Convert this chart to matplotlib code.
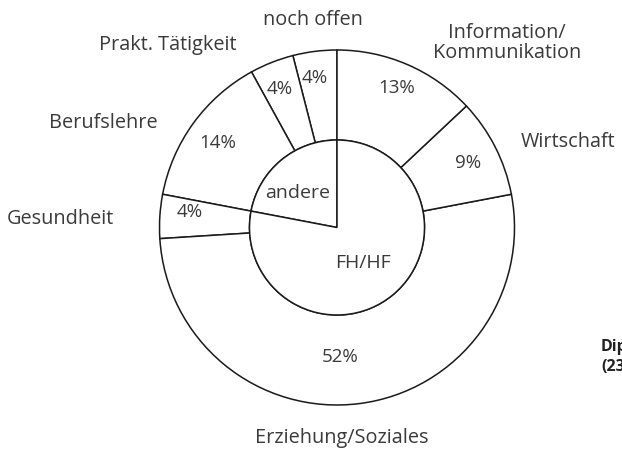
import matplotlib.pyplot as plt

plt.rcParams["font.family"] = ["Open Sans", "DejaVu Sans"]

# outer ring, counterclockwise from 12 o'clock
outer_labels = ["noch offen", "Prakt. Tätigkeit", "Berufslehre", "Gesundheit",
                "Erziehung/Soziales", "Wirtschaft", "Information/\nKommunikation"]
outer_values = [4, 4, 14, 4, 52, 9, 13]

# inner pie
inner_labels = ["andere", "FH/HF"]
inner_values = [22, 78]

W, H = 622, 453
CX, CY = 337, 227.5
R_OUT, R_IN = 177.5, 87.5
TXT = "#3a3a3a"

# label positions in image pixels (x, y from top)
outer_name_pos = [(313, 20), (168, 45), (103, 123), (60, 219),
                  (342, 438), (568, 142), (507, 43)]
outer_pct_pos = [(315, 78), (280, 89), (218, 143), (190, 212),
                 (340, 357), (468, 163), (397, 88)]
inner_name_pos = [(298, 193), (363, 263)]


def main():
    fig = plt.figure(figsize=(W / 100, H / 100), dpi=100)
    ax = fig.add_axes([0, 0, 1, 1])
    ax.set_xlim(0, W)
    ax.set_ylim(0, H)
    ax.set_aspect("equal")
    ax.axis("off")

    wp = dict(edgecolor="#1a1a1a", linewidth=1.1, facecolor="white")
    ax.pie(outer_values, center=(CX, H - CY), radius=R_OUT, startangle=90,
           counterclock=True, wedgeprops=dict(width=R_OUT - R_IN, **wp))
    ax.pie(inner_values, center=(CX, H - CY), radius=R_IN, startangle=90,
           counterclock=True, wedgeprops=wp)
    ax.set_xlim(0, W)
    ax.set_ylim(0, H)

    for name, (x, y) in zip(outer_labels, outer_name_pos):
        ax.text(x, H - y, name, ha="center", va="center", fontsize=14.3,
                color=TXT, linespacing=1.05)
    for v, (x, y) in zip(outer_values, outer_pct_pos):
        ax.text(x, H - y, f"{v}%", ha="center", va="center", fontsize=13.5,
                color=TXT)
    for name, (x, y) in zip(inner_labels, inner_name_pos):
        ax.text(x, H - y, name, ha="center", va="center", fontsize=14,
                color=TXT)

    ax.text(601, H - 357, "Diplom\n(23)", ha="left", va="center",
            fontsize=11.5, fontweight="bold", color="#222222", linespacing=1.4)

    fig.savefig("out.png", dpi=100)


if __name__ == "__main__":
    main()
